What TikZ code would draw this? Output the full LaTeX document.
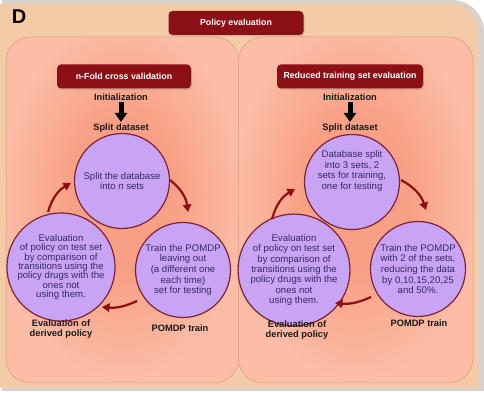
\documentclass[tikz,border=0pt]{standalone}
\usepackage{fontspec}
\setmainfont{Liberation Sans}
\usetikzlibrary{arrows.meta,calc,shadows}
\definecolor{tanbg}{HTML}{F3CBA6}
\definecolor{shadowgray}{HTML}{D9D2CC}
\definecolor{panelEdge}{HTML}{FCBCA6}
\definecolor{panelMid}{HTML}{F8A085}
\definecolor{panelLine}{HTML}{D29C82}
\definecolor{titleRed}{HTML}{8C1117}
\definecolor{circFill}{HTML}{C9A3F4}
\definecolor{circLine}{HTML}{7E2236}
\definecolor{circText}{HTML}{312C5E}
\definecolor{arrowRed}{HTML}{8E0F12}
\pgfdeclareradialshading{panelglow}{\pgfpoint{0bp}{3bp}}{color(0bp)=(panelMid); color(11bp)=(panelMid); color(26bp)=(panelEdge); color(50bp)=(panelEdge)}
\tikzset{
  titlebox/.style={fill=titleRed, rounded corners=4pt, text=white, inner sep=2pt,
    font=\bfseries\fontsize{8.8}{10}\selectfont, minimum height=24pt,
    drop shadow={shadow xshift=1pt, shadow yshift=-1.5pt, opacity=0.3}},
  lab/.style={font=\bfseries\fontsize{9.3}{10.6}\selectfont, text=black!90, align=center, inner sep=1.5pt},
  circ/.style={circle, draw=circLine, line width=1.2pt, fill=circFill, minimum size=95pt,
    inner sep=0pt, align=center, text=circText, font=\fontsize{9.6}{10.6}\selectfont},
  circtext/.style={align=center, text=circText, font=\fontsize{9.6}{10.6}\selectfont, inner sep=0pt},
  flow/.style={draw=arrowRed, line width=2.2pt, -{Triangle[length=7.5pt,width=8.5pt]}},
  blk/.style={draw=black, line width=5pt, -{Triangle[length=9pt,width=12pt]}},
  panel/.style={shading=panelglow, draw=panelLine, line width=0.5pt, rounded corners=24pt}
}
\begin{document}
\begin{tikzpicture}[x=1pt,y=1pt]
\useasboundingbox (0,0) rectangle (484,393);
\fill[white] (0,0) rectangle (484,393);
% outer frame
\fill[shadowgray] (2,2) -- (2,393) -- (452,393) arc[start angle=90,end angle=0,radius=32] -- (484,2) -- cycle;
\fill[tanbg] (0,5) -- (0,389) -- (450,389) arc[start angle=90,end angle=0,radius=28] -- (478,5) -- cycle;
% panels
\shadedraw[panel] (6,10) rectangle (238.5,356);
\shadedraw[panel] (238.5,10) rectangle (473,356);
% titles
\node[font=\bfseries\fontsize{20}{20}\selectfont, inner sep=0pt] (D) at (19,376) {D};
\node[titlebox, minimum width=135pt] (pe) at (236,370) {Policy evaluation};
\node[titlebox, minimum width=134pt] (nf) at (124,316.5) {n-Fold cross validation};
\node[titlebox, minimum width=146pt] (rt) at (350,316.5) {Reduced training set evaluation};
% left panel
\node[lab] (init1) at (121,296) {Initialization};
\node[lab] (split1) at (121,265) {Split dataset};
\draw[blk] (init1.south) -- (split1.north);
\node[circ] (t1) at (122,212) {Split the database\\into \textit{n} sets};
\node[circ, font=\fontsize{9.6}{9.3}\selectfont] (l1) at (61,126) {Evaluation\\of policy on test set\\by comparison of\\transitions using the\\policy drugs with the\\ones not\\using them.};
\node[circ] (r1) at (183,123) {Train the POMDP\\leaving out\\(a different one\\each time)\\set for testing};
\node[lab] (eval1) at (61,64) {Evaluation of\\derived policy};
\node[lab] (train1) at (180,65) {POMDP train};
\draw[flow] ($(t1)+(48,1)$) to[bend left=22] ($(r1)+(5,58)$);
\draw[flow] ($(r1)+(-46,-31)$) to[bend left=15] ($(l1)+(41,-40)$);
\draw[flow] ($(l1)+(-13,55)$) to[bend left=22] ($(t1)+(-51,-2)$);
% right panel
\node[lab] (init2) at (350,296) {Initialization};
\node[lab] (split2) at (350,265) {Split dataset};
\draw[blk] (init2.south) -- (split2.north);
\node[circ] (t2) at (352,211) {};
\node[circtext] (t2text) at (352,222) {Database split\\into 3 sets, 2\\sets for training,\\one for testing};
\node[circ, font=\fontsize{9.6}{10.3}\selectfont] (l2) at (294,123) {Evaluation\\of policy on test set\\by comparison of\\transitions using the\\policy drugs with the\\ones not\\using them.};
\node[circ] (r2) at (418,124) {Train the POMDP\\with 2 of the sets,\\reducing the data\\by 0,10,15,20,25\\and 50\%.};
\node[lab] (eval2) at (297,63) {Evaluation of\\derived policy};
\node[lab] (train2) at (419,70) {POMDP train};
\draw[flow] ($(t2)+(49,2)$) to[bend left=22] ($(r2)+(8,59)$);
\draw[flow] ($(r2)+(-47,-28)$) to[bend left=15] ($(l2)+(41,-33)$);
\draw[flow] ($(l2)+(-22,51)$) to[bend left=22] ($(t2)+(-57,-7)$);
\end{tikzpicture}
\end{document}
